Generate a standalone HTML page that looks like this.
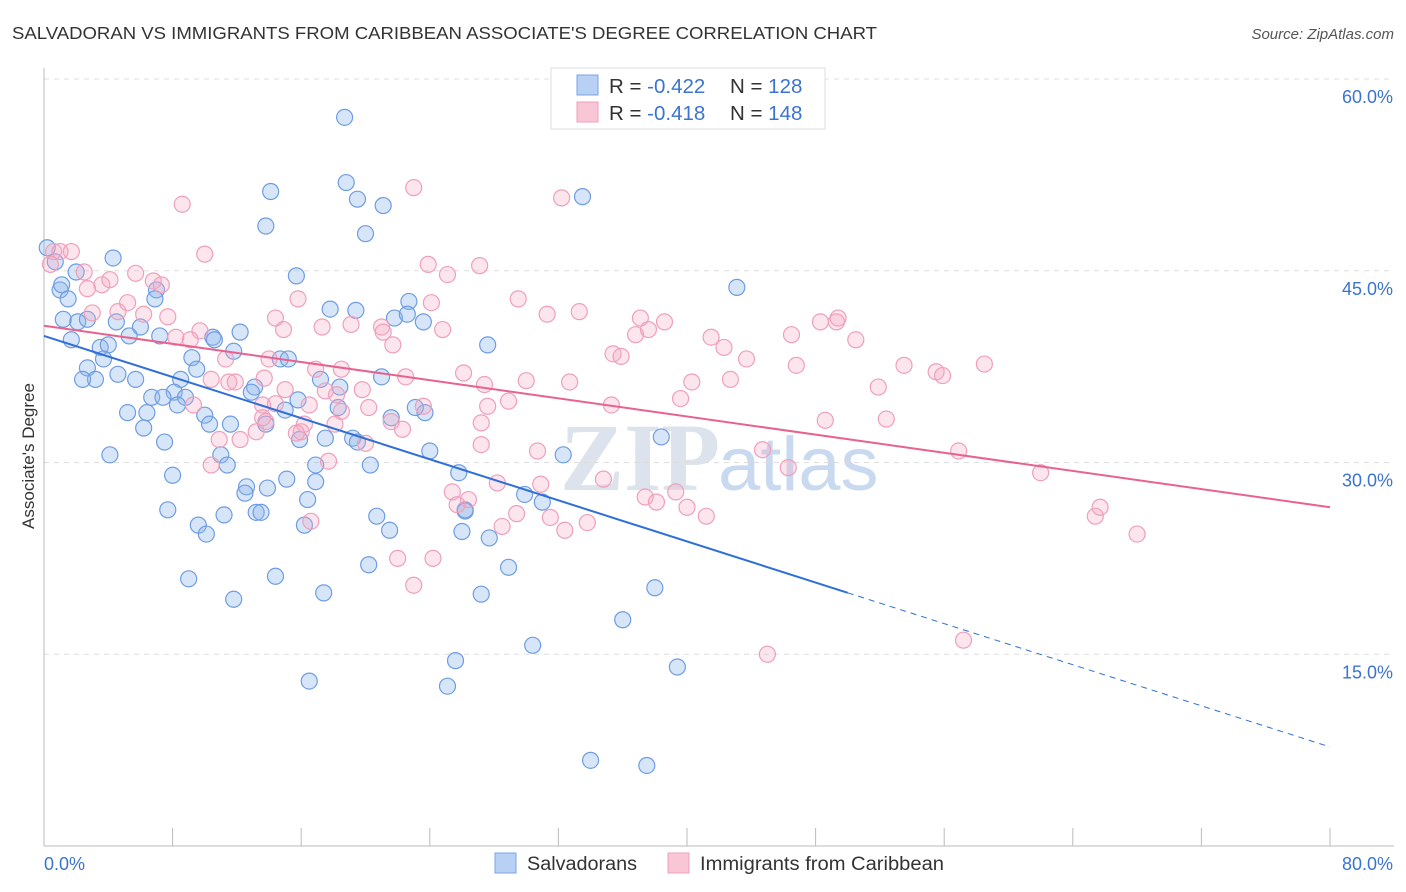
<!DOCTYPE html>
<html><head><meta charset="utf-8"><style>
body{margin:0;background:#fff;font-family:"Liberation Sans",sans-serif;}
svg{display:block}
</style></head><body>
<svg id="chart" width="1406" height="892">
<text x="12" y="39" font-size="17.5" fill="#333" textLength="865" lengthAdjust="spacingAndGlyphs">SALVADORAN VS IMMIGRANTS FROM CARIBBEAN ASSOCIATE'S DEGREE CORRELATION CHART</text>
<text x="1394" y="39" font-size="15" fill="#555" font-style="italic" text-anchor="end">Source: ZipAtlas.com</text>
<text x="720" y="490" font-size="96" fill="#dde3ec" text-anchor="end" font-family="Liberation Serif,serif" font-weight="bold">ZIP</text>
<text x="718" y="490" font-size="76" fill="#c9daf0">atlas</text>
<g id="grid"></g><g id="axes"></g><g id="pts"></g><g id="lines"></g>
<text x="34" y="456" font-size="17" fill="#333" text-anchor="middle" transform="rotate(-90 34 456)">Associate's Degree</text>
<g>
<rect x="551" y="68" width="274" height="61" fill="#fff" stroke="#ddd"/>
<rect x="577" y="75" width="21" height="20" fill="#b8d0f3" stroke="#7ba4e4"/>
<rect x="577" y="102" width="21" height="20" fill="#f9c6d6" stroke="#eea0bb"/>
<text x="609" y="93" font-size="20.5" fill="#333">R = <tspan fill="#3b74d0">-0.422</tspan></text>
<text x="730" y="93" font-size="20.5" fill="#333">N = <tspan fill="#3b74d0">128</tspan></text>
<text x="609" y="120" font-size="20.5" fill="#333">R = <tspan fill="#3b74d0"> -0.418</tspan></text>
<text x="730" y="120" font-size="20.5" fill="#333">N = <tspan fill="#3b74d0">148</tspan></text>
</g>
<g>
<rect x="495" y="853" width="21" height="20" fill="#b8d0f3" stroke="#7ba4e4"/>
<text x="527" y="870" font-size="19" fill="#333" textLength="110" lengthAdjust="spacingAndGlyphs">Salvadorans</text>
<rect x="668" y="853" width="21" height="20" fill="#f9c6d6" stroke="#eea0bb"/>
<text x="700" y="870" font-size="19" fill="#333" textLength="244" lengthAdjust="spacingAndGlyphs">Immigrants from Caribbean</text>
</g>
</svg>
<script>
const xTicks=[0,10,20,30,40,50,60,70,80];
const yTicks=[15,30,45,60];
const blueX=[18.7,18.8,19.5,21.1,33.5,14.1,13.8,20.0,4.3,15.7,0.2,0.7,43.1,1.0,1.5,2.0,7.0,6.9,22.7,17.8,19.4,21.8,22.6,23.6,1.2,2.1,2.7,4.5,6.0,1.7,3.5,4.0,5.3,7.2,10.5,12.2,10.6,11.8,27.6,3.7,2.7,3.2,2.4,4.6,5.7,9.2,9.5,14.7,15.2,8.5,8.1,6.7,7.4,8.8,13.1,12.9,17.2,18.4,21.0,15.8,18.3,5.2,6.4,8.3,10.0,10.3,15.0,21.6,23.7,23.1,11.6,6.2,7.5,13.8,15.9,17.5,19.2,19.5,4.1,11.0,24.0,32.3,38.4,11.4,16.9,20.3,25.8,8.0,15.1,16.9,12.6,13.9,12.5,29.9,16.4,31.0,7.7,11.2,13.2,13.5,26.2,26.2,20.7,9.6,16.2,21.5,10.1,26.0,27.7,20.2,28.9,9.0,14.4,17.4,27.2,38.0,11.8,36.0,30.4,25.6,39.4,16.5,25.1,34.0,37.5,1.1];
const blueY=[57.0,51.9,50.6,50.1,50.8,51.2,48.5,47.9,46.0,44.6,46.8,45.7,43.7,43.5,42.8,44.9,43.5,42.8,42.6,42.0,41.9,41.3,41.6,41.0,41.2,41.0,41.2,41.0,40.6,39.6,39.0,39.2,39.9,39.9,39.8,40.2,39.6,38.7,39.2,38.1,37.4,36.5,36.5,36.9,36.5,38.2,37.3,38.1,38.1,36.5,35.5,35.1,35.1,35.1,35.9,35.5,36.5,35.9,36.7,34.9,34.3,33.9,33.9,34.5,33.7,33.0,34.1,33.5,33.9,34.3,33.0,32.7,31.6,33.0,31.8,31.9,31.9,31.6,30.6,30.6,30.9,30.6,32.0,29.8,29.8,29.8,29.2,29.0,28.7,28.5,28.1,28.0,27.6,27.5,27.1,26.9,26.3,25.9,26.1,26.1,26.3,26.2,25.8,25.1,25.1,24.7,24.4,24.6,24.1,22.0,21.8,20.9,21.1,19.8,19.7,20.2,19.3,17.7,15.7,14.5,14.0,12.9,12.5,6.7,6.3,43.9];
const pinkX=[23.0,8.6,32.2,10.0,0.6,1.0,1.7,0.4,2.5,3.6,4.1,5.7,6.8,7.3,23.9,25.1,27.1,15.8,24.1,29.5,31.3,33.3,37.1,38.6,48.3,49.3,49.4,2.7,3.0,4.6,5.2,6.2,7.7,9.7,8.2,9.1,14.4,14.9,17.3,19.1,21.0,21.1,21.7,24.8,36.8,37.6,41.5,42.3,46.5,50.5,35.4,35.9,43.7,46.8,14.0,11.3,16.9,18.5,22.5,26.1,32.7,30.0,27.4,40.3,42.7,51.9,53.5,55.5,55.9,58.5,10.4,11.5,13.7,11.9,15.0,17.5,18.2,19.8,27.6,28.9,35.3,39.6,9.3,13.6,14.4,16.5,13.6,13.8,16.2,18.5,20.2,21.6,23.6,27.2,10.9,12.2,13.2,15.7,16.0,18.1,22.3,48.6,52.4,20.0,27.2,30.7,10.4,17.7,44.7,46.3,56.9,62.0,28.2,34.8,25.4,26.4,25.7,39.3,37.4,38.1,40.0,41.2,29.4,31.5,28.5,33.8,32.4,65.4,65.7,68.0,16.6,22.0,24.2,23.0,45.0,57.2,30.9];
const pinkY=[51.5,50.2,50.7,46.3,46.5,46.5,46.5,45.5,44.9,43.9,44.3,44.8,44.2,43.9,45.5,44.7,45.4,42.8,42.5,42.8,41.6,41.8,41.3,41.0,41.0,41.0,41.3,43.6,41.7,41.8,42.5,41.6,41.4,40.3,39.8,39.6,41.3,40.4,40.6,40.8,40.6,40.2,39.2,40.4,40.0,40.4,39.8,39.0,40.0,39.6,38.5,38.3,38.1,37.6,38.1,38.1,37.3,37.3,36.7,37.0,36.3,36.4,36.1,36.3,36.5,35.9,37.6,37.1,36.8,37.7,36.5,36.3,36.6,36.3,35.7,35.6,35.3,35.7,34.4,34.8,34.5,35.0,34.5,34.5,34.6,34.5,33.5,33.2,33.0,34.0,34.3,33.2,34.4,33.1,31.8,31.8,32.4,32.3,32.4,33.0,32.6,33.3,33.4,31.5,31.4,30.9,29.8,30.1,31.0,29.6,30.9,29.2,28.4,28.7,27.7,27.1,26.7,27.7,27.3,26.9,26.5,25.8,26.0,25.7,25.0,25.3,24.7,25.8,26.5,24.4,25.4,22.5,22.5,20.4,15.0,16.1,28.3];
const blueTrend=[39.9,7.75], blueSolidEnd=50;
const pinkTrend=[40.7,26.5];
const NS="http://www.w3.org/2000/svg";
const X0=44,X1=1330,Y0=846,YT=79;
const sx=v=>X0+(X1-X0)*v/80;
const sy=v=>Y0-(Y0-YT)*v/60;
function mk(tag,attrs,parent){const e=document.createElementNS(NS,tag);for(const k in attrs)e.setAttribute(k,attrs[k]);document.getElementById(parent).appendChild(e);return e;}
yTicks.forEach(t=>{
 const g=mk('line',{x1:X0,x2:1394,y1:sy(t),y2:sy(t),stroke:'#ddd','stroke-dasharray':'5,5'},'grid');
 
 
 const l=mk('text',{x:1393,y:sy(t)+24,'font-size':18,fill:'#3b74d0','text-anchor':'end'},'axes');l.textContent=t.toFixed(1)+'%';
 
 
});
const ax=mk('line',{x1:X0,x2:1394,y1:Y0,y2:Y0,stroke:'#bbb'},'axes');


const ay=mk('line',{x1:X0,x2:X0,y1:68,y2:Y0,stroke:'#bbb'},'axes');


for(let i=0;i<=80;i+=8){const tk=mk('line',{x1:sx(i),x2:sx(i),y1:Y0,y2:Y0-18,stroke:'#bbb'},'axes');
 
 }
[[0,'start'],[80,'end']].forEach(([t,a])=>{const l=mk('text',{x:t==0?44:1393,y:870,'font-size':18,fill:'#3b74d0','text-anchor':a},'axes');l.textContent=t.toFixed(1)+'%';
 
 });
blueX.forEach((x,i)=>{const c=mk('circle',{cx:sx(x),cy:sy(blueY[i]),r:8,fill:'rgba(140,180,235,0.35)',stroke:'#6f9de3','stroke-width':1.2},'pts');
 
 });
pinkX.forEach((x,i)=>{const c=mk('circle',{cx:sx(x),cy:sy(pinkY[i]),r:8,fill:'rgba(245,170,195,0.3)',stroke:'#eea0bb','stroke-width':1.2},'pts');
 
 });
const by=v=>blueTrend[0]+(blueTrend[1]-blueTrend[0])*v/80;
const bl=mk('line',{x1:sx(0),y1:sy(by(0)),x2:sx(blueSolidEnd),y2:sy(by(blueSolidEnd)),stroke:'#2f6fd6','stroke-width':2},'lines');


const bd=mk('line',{x1:sx(blueSolidEnd),y1:sy(by(blueSolidEnd)),x2:sx(80),y2:sy(by(80)),stroke:'#2f6fd6','stroke-width':1,'stroke-dasharray':'6,5'},'lines');


const pl=mk('line',{x1:sx(0),y1:sy(pinkTrend[0]),x2:sx(80),y2:sy(pinkTrend[1]),stroke:'#e8628f','stroke-width':2},'lines');


</script>
</body></html>
